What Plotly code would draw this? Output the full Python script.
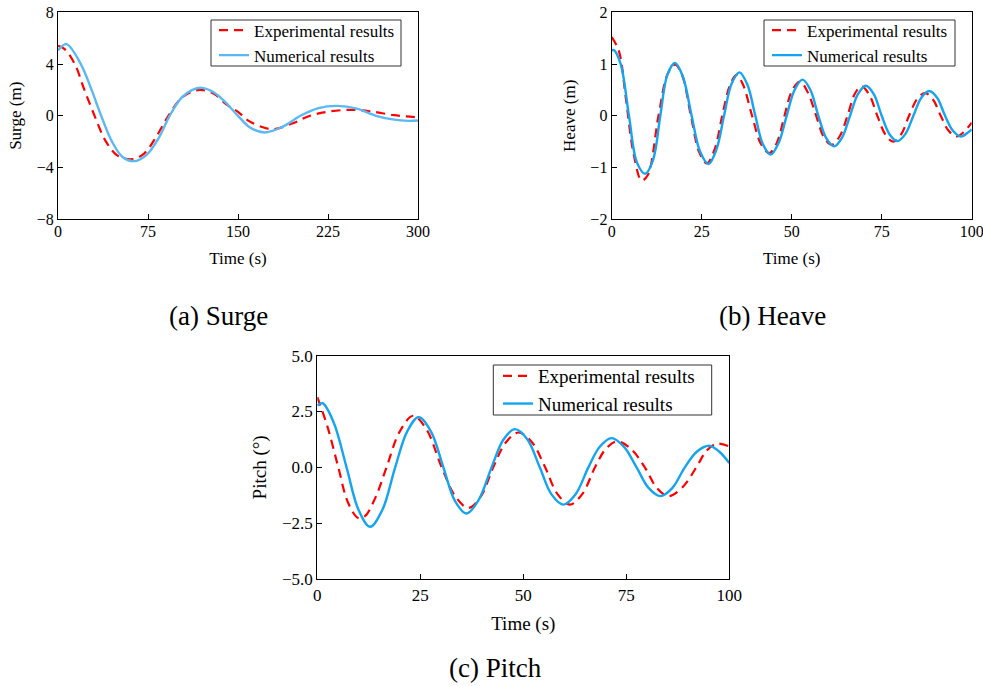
import plotly.graph_objects as go

# ---------------- data ----------------
surge_num_t = [0, 7, 19, 28, 36, 45, 54, 64, 74, 84, 93, 103, 112, 120, 130, 140, 150, 160, 172, 187, 202, 217, 233, 249, 265, 280, 292, 300]
surge_num_y = [5.05, 5.54, 4.0, 2.0, 0.0, -2.0, -3.2, -3.5, -3.0, -1.7, 0.0, 1.4, 2.0, 2.16, 1.8, 1.0, 0.0, -0.9, -1.29, -0.85, 0.0, 0.6, 0.77, 0.55, 0.0, -0.3, -0.39, -0.36]
surge_exp_t = [0, 5, 14, 22, 30.5, 40, 50, 62.5, 72, 82, 92, 102, 111, 119, 130, 140, 150, 160, 178, 195, 210, 225, 243, 260, 280, 300]
surge_exp_y = [5.4, 5.2, 4.0, 2.0, 0.0, -2.0, -3.1, -3.35, -2.9, -1.6, 0.0, 1.3, 1.85, 2.0, 1.7, 0.9, 0.3, -0.45, -1.03, -0.6, 0.0, 0.32, 0.46, 0.35, 0.05, -0.12]

heave_num_t = [0, 0.6, 2.5, 4.8, 7, 9.3, 11.5, 13.5, 15.5, 17.6, 19.8, 22.2, 24.6, 26.9, 29.1, 31.2, 33.3, 35.5, 37.7, 39.9, 42, 44.2, 46.4, 48.6, 50.8, 53, 55.2, 57.4, 59.6, 61.8, 64, 66.2, 68.4, 70.6, 72.8, 75, 77.2, 79.4, 81.6, 83.8, 86, 88.2, 90.4, 92.6, 94.8, 97, 99, 100]
heave_num_y = [1.26, 1.27, 1.0, 0.0, -0.9, -1.12, -0.85, 0.0, 0.8, 1.02, 0.75, 0.0, -0.7, -0.93, -0.65, 0.0, 0.62, 0.84, 0.6, 0.0, -0.55, -0.75, -0.52, 0.0, 0.5, 0.70, 0.5, 0.0, -0.43, -0.59, -0.42, 0.0, 0.42, 0.58, 0.42, 0.0, -0.36, -0.49, -0.35, 0.0, 0.35, 0.48, 0.35, 0.0, -0.29, -0.40, -0.32, -0.26]
heave_exp_t = [0, 2, 4, 6, 8.3, 10, 13, 15.5, 17.6, 19.5, 22, 24.3, 26.4, 28.6, 30.7, 32.8, 34.7, 36.5, 39, 41.5, 43.8, 46, 48, 50, 52.3, 54.5, 56.8, 59, 61.1, 63.3, 65.5, 67.5, 69.4, 71.6, 73.8, 76, 78.2, 80.4, 82.6, 84.8, 87, 89.2, 91.4, 93.6, 95.8, 98, 100]
heave_exp_y = [1.52, 1.25, 0.3, -0.7, -1.25, -1.15, 0.0, 0.8, 0.99, 0.8, 0.0, -0.7, -0.92, -0.65, 0.0, 0.58, 0.79, 0.6, 0.0, -0.55, -0.72, -0.5, 0.0, 0.47, 0.66, 0.45, 0.0, -0.42, -0.56, -0.4, 0.0, 0.42, 0.57, 0.4, 0.0, -0.36, -0.50, -0.36, 0.0, 0.32, 0.44, 0.32, 0.0, -0.29, -0.40, -0.3, -0.13]

pitch_num_t = [0, 1.3, 4, 7.1, 10, 12.8, 15.8, 18.9, 21.8, 24.6, 27.6, 30.6, 33.4, 36.2, 39.2, 42.3, 45.2, 48, 51, 54, 56.8, 59.7, 62.7, 65.8, 68.6, 71.4, 74.4, 77.5, 80.4, 83.3, 86.2, 89.2, 92.1, 95.1, 97.6, 100]
pitch_num_y = [2.77, 2.87, 2.0, 0.0, -1.9, -2.66, -1.9, 0.0, 1.6, 2.25, 1.6, 0.0, -1.5, -2.07, -1.45, 0.0, 1.25, 1.71, 1.25, 0.0, -1.2, -1.67, -1.2, 0.0, 0.93, 1.31, 0.93, 0.0, -0.92, -1.29, -0.92, 0.0, 0.7, 0.97, 0.7, 0.19]
pitch_exp_t = [0, 2.5, 5.1, 7.5, 9.95, 11.5, 14, 16.8, 20, 23.3, 26.5, 30.2, 33.5, 36.7, 39.7, 42.7, 45.7, 48.8, 52, 55.3, 58.3, 61.3, 64.3, 67.4, 70, 72.7, 76, 79.5, 82.4, 85.2, 88.6, 92, 94.5, 97, 100]
pitch_exp_y = [3.14, 1.8, 0.0, -1.6, -2.27, -2.2, -1.4, 0.0, 1.6, 2.31, 1.7, 0.0, -1.3, -1.82, -1.3, 0.0, 1.1, 1.56, 1.15, 0.0, -1.2, -1.67, -1.2, 0.0, 0.82, 1.16, 0.85, 0.0, -0.92, -1.29, -0.9, 0.0, 0.75, 1.06, 0.94]

exp_name = "Experimental results"
num_name = "Numerical results"
captions = ["(a) Surge", "(b) Heave", "(c) Pitch"]

# ---------------- styles ----------------
SERIF = "Liberation Serif"
RED = "#FF0000"
BLUE_A = "#5AB9F4"
BLUE = "#14A4F0"

fig = go.Figure()

def add_pair(t_e, y_e, t_n, y_n, xa, ya, leg, blue):
    fig.add_trace(go.Scatter(x=t_e, y=y_e, name=exp_name, mode="lines",
                             line=dict(color=RED, width=2.2, dash="9px,6px", shape="spline", smoothing=1.0),
                             xaxis=xa, yaxis=ya, legend=leg))
    fig.add_trace(go.Scatter(x=t_n, y=y_n, name=num_name, mode="lines",
                             line=dict(color=blue, width=2.4, shape="spline", smoothing=1.0),
                             xaxis=xa, yaxis=ya, legend=leg))

add_pair(surge_exp_t, surge_exp_y, surge_num_t, surge_num_y, "x", "y", "legend", BLUE_A)
add_pair(heave_exp_t, heave_exp_y, heave_num_t, heave_num_y, "x2", "y2", "legend2", BLUE)
add_pair(pitch_exp_t, pitch_exp_y, pitch_num_t, pitch_num_y, "x3", "y3", "legend3", BLUE)

W, H = 983, 686
def px(x):
    return x / W
def py(y):
    return 1 - y / H

def axis_common(size):
    return dict(showline=True, linecolor="black", linewidth=1.2, mirror=True,
                ticks="inside", ticklen=5, tickcolor="black", tickwidth=1,
                showgrid=False, zeroline=False, automargin=False,
                ticklabeloverflow="allow",
                tickfont=dict(family=SERIF, size=size, color="black"))

def xaxis(dom, rng, dtick, anchor, size, tsize, standoff, lstand):
    d = axis_common(size)
    d.update(domain=dom, range=rng, dtick=dtick, tick0=0, anchor=anchor,
             ticklabelstandoff=lstand,
             title=dict(text="Time (s)", font=dict(family=SERIF, size=tsize, color="black"), standoff=standoff))
    return d

def yaxis(dom, rng, dtick, anchor, title, size, tsize, standoff, fmt=None):
    d = axis_common(size)
    d.update(domain=dom, range=rng, dtick=dtick, tick0=0, anchor=anchor,
             title=dict(text=title, font=dict(family=SERIF, size=tsize, color="black"), standoff=standoff))
    if fmt:
        d["tickformat"] = fmt
    return d

top_dom = [py(219.3), py(12.3)]
leg_common = dict(xanchor="left", yanchor="top", borderwidth=0,
                  bgcolor="rgba(0,0,0,0)", tracegroupgap=0)
fig.update_layout(
    template="none",
    width=W, height=H,
    margin=dict(l=0, r=0, t=0, b=0, autoexpand=False),
    paper_bgcolor="white", plot_bgcolor="white",
    xaxis=xaxis([px(58), px(418)], [0, 300], 75, "y", 16, 17, 13, -3),
    yaxis=yaxis(top_dom, [-8, 8], 4, "x", "Surge (m)", 16, 17, 10),
    xaxis2=xaxis([px(611.7), px(971.7)], [0, 100], 25, "y2", 16, 17, 13, -3),
    yaxis2=yaxis(top_dom, [-2, 2], 1, "x2", "Heave (m)", 16, 17, 10),
    xaxis3=xaxis([px(317.3), px(729.3)], [0, 100], 25, "y3", 17, 19, 13, 0),
    yaxis3=yaxis([py(579), py(355.7)], [-5, 5], 2.5, "x3", "Pitch (°)", 17, 19, 10, ".1f"),
    legend=dict(x=px(214), y=py(12.5), font=dict(family=SERIF, size=17, color="black"), **leg_common),
    legend2=dict(x=px(767), y=py(12.5), font=dict(family=SERIF, size=17, color="black"), **leg_common),
    legend3=dict(x=px(498), y=py(357), font=dict(family=SERIF, size=19, color="black"), **leg_common),
    showlegend=True,
)

# legend frames
for (x0, y0, x1, y1) in [(211, 20, 401, 66), (764, 20, 955, 66), (493.3, 365, 711.7, 415)]:
    fig.add_shape(type="rect", xref="paper", yref="paper",
                  x0=px(x0), x1=px(x1), y0=py(y1), y1=py(y0),
                  line=dict(color="#333", width=1), fillcolor="rgba(0,0,0,0)", layer="above")

cap_pos = [(218, 316), (772, 316), (495, 668)]
for txt, (cx, cy) in zip(captions, cap_pos):
    fig.add_annotation(text=txt, x=px(cx), y=py(cy), xref="paper", yref="paper",
                       xanchor="center", yanchor="middle", showarrow=False,
                       font=dict(family=SERIF, size=27, color="black"))

fig.write_html("out.html")
